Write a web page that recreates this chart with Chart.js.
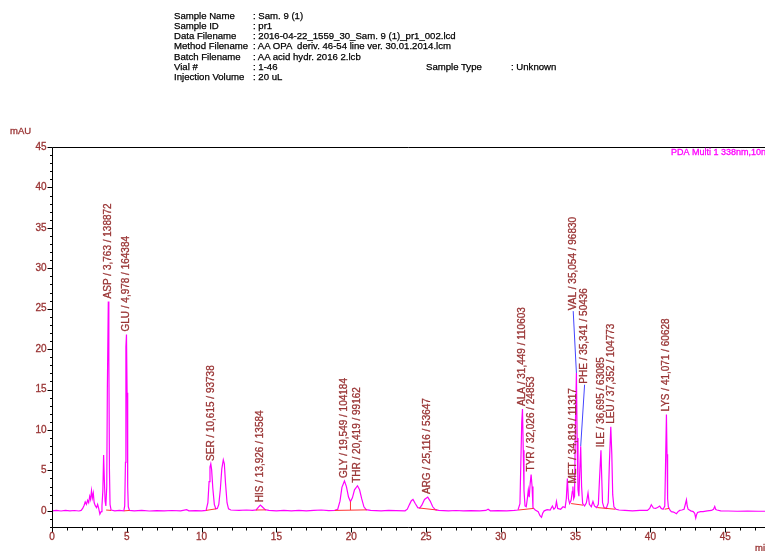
<!DOCTYPE html>
<html>
<head>
<meta charset="utf-8">
<script src="https://cdn.jsdelivr.net/npm/chart.js@4.4.1/dist/chart.umd.min.js"></script>
<style>
  html, body { margin: 0; padding: 0; background: #fff; }
  #wrap { position: relative; width: 765px; height: 551px; overflow: hidden; }
  #c { position: absolute; left: 0; top: 0; }
  .hd { position: absolute; font-family: 'Liberation Sans', Arial, sans-serif; font-size: 9.6px;
        color: #000; white-space: pre; line-height: 10px; -webkit-text-stroke: 0.25px #000; }
</style>
</head>
<body>
<div id="wrap">
  <canvas id="c" width="765" height="551"></canvas>
  <div class="hd" style="left:174px;top:11px">Sample Name</div>
  <div class="hd" style="left:253px;top:11px">: Sam. 9 (1)</div>
  <div class="hd" style="left:174px;top:21px">Sample ID</div>
  <div class="hd" style="left:253px;top:21px">: pr1</div>
  <div class="hd" style="left:174px;top:31px">Data Filename</div>
  <div class="hd" style="left:253px;top:31px">: 2016-04-22_1559_30_Sam. 9 (1)_pr1_002.lcd</div>
  <div class="hd" style="left:174px;top:41px">Method Filename</div>
  <div class="hd" style="left:253px;top:41px">: AA OPA  deriv. 46-54 line ver. 30.01.2014.lcm</div>
  <div class="hd" style="left:174px;top:52px">Batch Filename</div>
  <div class="hd" style="left:253px;top:52px">: AA acid hydr. 2016 2.lcb</div>
  <div class="hd" style="left:174px;top:62px">Vial #</div>
  <div class="hd" style="left:253px;top:62px">: 1-46</div>
  <div class="hd" style="left:426px;top:62px">Sample Type</div>
  <div class="hd" style="left:511px;top:62px">: Unknown</div>
  <div class="hd" style="left:174px;top:72px">Injection Volume</div>
  <div class="hd" style="left:253px;top:72px">: 20 uL</div>
</div>
<script>
// Chromatogram trace: PDA Multi 1, 338 nm (retention time in min, absorbance in mAU)
const traceTime = [
  0.00, 0.30, 0.60, 0.90, 1.20, 1.50, 1.80, 1.95, 2.05, 2.15, 2.22, 2.30, 2.38, 2.45, 2.52, 2.58,
  2.64, 2.70, 2.76, 2.82, 2.90, 2.98, 3.05, 3.12, 3.20, 3.28, 3.34, 3.40, 3.45, 3.50, 3.55, 3.60,
  3.66, 3.70, 3.763, 3.80, 3.84, 3.88, 3.95, 4.20, 4.50, 4.80, 4.86, 4.91, 4.94, 4.978, 5.02, 5.06,
  5.10, 5.18, 5.50, 6.00, 6.50, 7.00, 7.50, 8.00, 8.60, 9.00, 9.15, 9.60, 10.00, 10.30, 10.42, 10.50,
  10.56, 10.615, 10.67, 10.75, 10.85, 10.95, 11.05, 11.15, 11.25, 11.35, 11.45, 11.52, 11.60, 11.70, 11.80, 11.95,
  12.50, 13.00, 13.40, 13.65, 13.80, 13.926, 14.05, 14.25, 14.50, 15.00, 15.50, 16.00, 16.50, 17.00, 17.50, 18.00,
  18.50, 18.90, 19.10, 19.25, 19.38, 19.549, 19.68, 19.82, 19.95, 20.08, 20.22, 20.419, 20.56, 20.70, 20.85, 21.00,
  21.30, 22.00, 22.50, 23.00, 23.60, 23.75, 23.90, 24.02, 24.13, 24.28, 24.45, 24.58, 24.72, 24.90, 25.116, 25.28,
  25.45, 25.62, 25.85, 26.50, 27.00, 27.50, 28.00, 28.60, 29.00, 29.15, 29.30, 29.80, 30.40, 30.90, 31.15, 31.28,
  31.34, 31.40, 31.449, 31.50, 31.55, 31.62, 31.70, 31.78, 31.84, 31.90, 31.96, 32.026, 32.09, 32.15, 32.30, 32.50,
  32.62, 32.72, 32.80, 32.90, 33.10, 33.30, 33.45, 33.55, 33.65, 33.72, 33.80, 34.00, 34.16, 34.30, 34.38, 34.45,
  34.52, 34.60, 34.70, 34.78, 34.819, 34.87, 34.93, 34.98, 35.054, 35.10, 35.16, 35.22, 35.28, 35.341, 35.40, 35.47,
  35.60, 35.72, 35.83, 35.92, 36.05, 36.16, 36.26, 36.40, 36.52, 36.60, 36.695, 36.74, 36.80, 36.90, 37.05, 37.18,
  37.26, 37.352, 37.42, 37.48, 37.56, 37.70, 37.90, 38.30, 38.80, 39.30, 39.80, 39.95, 40.06, 40.20, 40.35, 40.50,
  40.62, 40.72, 40.85, 40.96, 41.01, 41.071, 41.11, 41.15, 41.20, 41.30, 41.40, 41.55, 41.74, 41.85, 41.96, 42.10,
  42.25, 42.36, 42.41, 42.46, 42.52, 42.70, 42.86, 42.96, 43.03, 43.08, 43.15, 43.35, 43.52, 43.80, 44.08, 44.22,
  44.30, 44.37, 44.45, 44.70, 45.20, 45.80, 46.50, 47.20, 47.66
];
const traceMAU = [
  0.00, 0.05, -0.02, 0.05, 0.00, 0.04, -0.02, 0.05, 0.30, 0.70, 1.10, 0.80, 1.30, 1.00, 1.80, 1.40,
  2.50, 1.60, 2.20, 1.00, 0.60, 0.40, 0.80, 0.30, -0.40, -0.10, 0.60, 2.50, 6.90, 3.80, 1.20, 0.60,
  3.00, 15.00, 25.90, 19.10, 5.00, 0.80, 0.10, 0.00, 0.05, 0.00, 0.60, 6.00, 20.30, 21.80, 14.60, 3.00,
  0.50, 0.05, 0.00, 0.05, -0.02, 0.03, 0.00, 0.04, 0.00, 0.15, 0.00, 0.03, 0.00, 0.05, 1.00, 3.60,
  5.40, 5.80, 5.10, 2.80, 0.80, 0.25, 0.30, 0.80, 2.60, 5.20, 6.30, 5.80, 3.40, 1.00, 0.25, 0.10,
  0.05, 0.10, 0.05, 0.12, 0.45, 0.70, 0.50, 0.15, 0.05, 0.00, 0.05, 0.00, 0.05, 0.00, 0.05, 0.10,
  0.03, 0.05, 0.20, 1.20, 2.90, 3.70, 3.00, 1.70, 1.15, 1.60, 2.60, 3.10, 2.60, 1.50, 0.50, 0.15,
  0.05, 0.00, 0.05, 0.02, 0.00, 0.20, 0.80, 1.25, 1.40, 0.90, 0.40, 0.35, 0.70, 1.40, 1.70, 1.20,
  0.50, 0.15, 0.05, 0.00, 0.04, 0.00, 0.03, 0.00, 0.05, 0.20, 0.00, 0.03, 0.00, 0.05, 0.10, 0.90,
  6.00, 11.00, 12.60, 7.50, 2.50, 0.60, 0.50, 1.60, 2.60, 1.70, 3.30, 4.50, 3.00, 0.40, 0.10, -0.10,
  -0.60, -0.80, -0.30, 0.00, 0.15, 0.10, 0.60, 0.20, 0.40, 1.15, 0.30, 0.20, 0.50, 0.40, 1.50, 4.00,
  1.50, 0.90, 1.30, 2.40, 3.00, 1.50, 1.80, 10.00, 17.05, 9.00, 2.60, 1.80, 5.00, 8.00, 3.00, 0.90,
  0.60, 1.00, 2.20, 0.80, 0.50, 1.15, 0.60, 0.40, 0.80, 4.00, 7.50, 4.50, 1.00, 0.40, 0.30, 1.00,
  6.00, 10.40, 7.00, 2.00, 0.50, 0.20, 0.10, 0.05, 0.00, 0.05, 0.05, 0.30, 0.75, 0.35, 0.30, 0.45,
  0.60, 0.30, 0.20, 0.60, 5.50, 11.90, 7.00, 1.50, 0.50, 0.10, -0.10, -0.15, -0.35, -0.10, 0.05, 0.10,
  0.20, 1.00, 1.36, 0.60, 0.20, 0.00, -0.10, -0.30, -0.90, -0.50, -0.20, -0.10, -0.10, 0.00, 0.05, 0.20,
  0.55, 0.15, 0.10, 0.00, -0.02, -0.05, -0.03, -0.05, -0.05
];

// Identified peaks: name, retention time (min), area
const peakNames = ['ASP', 'GLU', 'SER', 'HIS', 'GLY', 'THR', 'ARG', 'ALA', 'TYR', 'MET', 'VAL', 'PHE', 'ILE', 'LEU', 'LYS'];
const peakTimes = [3.763, 4.978, 10.615, 13.926, 19.549, 20.419, 25.116, 31.449, 32.026, 34.819, 35.054, 35.341, 36.695, 37.352, 41.071];
const peakAreas = [138872, 164384, 93738, 13584, 104184, 99162, 53647, 110603, 24853, 11317, 96830, 50436, 63085, 104773, 60628];

// Integration baselines: [start time, start mAU, end time, end mAU]
const baseStartTime = [3.62, 4.82, 10.30, 13.62, 18.90, 24.55, 31.18, 34.70, 36.45, 40.95, 19.95];
const baseStartMAU  = [0.10, 0.00, 0.05, 0.10, 0.05, 0.35, 0.10, 0.90, 0.40, 0.20, 0.09];
const baseEndTime   = [3.95, 5.20, 10.97, 14.30, 21.05, 25.75, 32.20, 35.50, 37.65, 41.25, 19.95];
const baseEndMAU    = [0.05, 0.05, 0.25, 0.12, 0.12, 0.10, 0.30, 0.70, 0.20, 0.30, 1.15];

// Axis tick labels
const xTickLabels = [0, 5, 10, 15, 20, 25, 30, 35, 40, 45];
const yTickLabels = [0, 5, 10, 15, 20, 25, 30, 35, 40, 45];

// Labels that are moved off their peak and tied back with a leader line
const movedLabels = { VAL: { t: 34.84, v: 24.7 }, PHE: { t: 35.60, v: 15.6 } };

const LABEL_RED = '#993333';
const FONT = "'Liberation Sans', Arial, sans-serif";

const tracePoints = traceTime.map((t, i) => ({ x: t, y: traceMAU[i] }));

const basePoints = [];
baseStartTime.forEach((t, i) => {
  basePoints.push({ x: t, y: baseStartMAU[i] });
  basePoints.push({ x: baseEndTime[i], y: baseEndMAU[i] });
  basePoints.push({ x: baseEndTime[i], y: null });
});

function apexOf(t) {
  return traceMAU[traceTime.indexOf(t)];
}

const leaderPoints = [];
peakNames.forEach((n, i) => {
  const m = movedLabels[n];
  if (!m) return;
  leaderPoints.push({ x: m.t, y: m.v });
  leaderPoints.push({ x: peakTimes[i], y: apexOf(peakTimes[i]) });
  leaderPoints.push({ x: peakTimes[i], y: null });
});

// draws text with a hairline outline so it reads a little heavier
function heavyText(ctx, txt, x, y) {
  ctx.strokeText(txt, x, y);
  ctx.fillText(txt, x, y);
}

const frame = {
  id: 'frame',
  afterDraw(chart) {
    const { ctx, chartArea: a, scales: { x, y } } = chart;
    ctx.save();
    ctx.strokeStyle = '#000';
    ctx.lineWidth = 1;
    ctx.beginPath();
    const L = Math.round(a.left) + 0.5, B = Math.round(a.bottom) + 0.5, T = Math.round(a.top) + 0.5;
    ctx.moveTo(L, T); ctx.lineTo(L, B);
    ctx.moveTo(L, B); ctx.lineTo(a.right, B);
    ctx.moveTo(L, T); ctx.lineTo(a.right, T);
    // y ticks every 1 mAU, long every 5
    for (let v = Math.ceil(y.min); v <= y.max; v++) {
      const py = Math.round(y.getPixelForValue(v)) + 0.5;
      const len = v % 5 === 0 ? 5 : 2.5;
      ctx.moveTo(L - len, py); ctx.lineTo(L, py);
    }
    // x ticks every 1 min, long every 5
    for (let t = 0; t <= x.max; t++) {
      const px = Math.round(x.getPixelForValue(t)) + 0.5;
      const len = t % 5 === 0 ? 5 : 3;
      ctx.moveTo(px, B); ctx.lineTo(px, B + len);
    }
    ctx.stroke();

    ctx.fillStyle = LABEL_RED;
    ctx.strokeStyle = LABEL_RED;
    ctx.lineWidth = 0.3;
    ctx.font = '10px ' + FONT;
    ctx.textAlign = 'right';
    ctx.textBaseline = 'middle';
    yTickLabels.forEach(v => heavyText(ctx, String(v), L - 6, y.getPixelForValue(v)));
    ctx.textAlign = 'center';
    xTickLabels.forEach(t => heavyText(ctx, String(t), x.getPixelForValue(t), B + 10));

    ctx.textAlign = 'left';
    ctx.font = '9.5px ' + FONT;
    heavyText(ctx, 'mAU', 10, 131);
    heavyText(ctx, 'min', 755, 548);

    ctx.fillStyle = '#ff00ff';
    ctx.strokeStyle = '#ff00ff';
    ctx.font = '9px ' + FONT;
    heavyText(ctx, 'PDA Multi 1 338nm,10nm', 671, 153);

    // peak labels, written upward from the peak top
    ctx.fillStyle = LABEL_RED;
    ctx.strokeStyle = LABEL_RED;
    ctx.font = '10px ' + FONT;
    ctx.textBaseline = 'middle';
    peakNames.forEach((n, i) => {
      const m = movedLabels[n];
      const t = m ? m.t : peakTimes[i];
      const v = m ? m.v : apexOf(peakTimes[i]);
      const px = x.getPixelForValue(t);
      const py = y.getPixelForValue(v) - (m ? 1 : 3);
      const txt = n + ' / ' + peakTimes[i].toFixed(3).replace('.', ',') + ' / ' + peakAreas[i];
      ctx.save();
      ctx.translate(px, py);
      ctx.rotate(-Math.PI / 2);
      heavyText(ctx, txt, 0, 0);
      ctx.restore();
    });
    ctx.restore();
  }
};

new Chart(document.getElementById('c'), {
  type: 'line',
  data: {
    datasets: [
      { data: basePoints, borderColor: '#ff3333', borderWidth: 1, pointRadius: 0, spanGaps: false, order: 0 },
      { data: leaderPoints, borderColor: '#4444ff', borderWidth: 1, pointRadius: 0, spanGaps: false, order: 1 },
      { data: tracePoints, borderColor: '#ff00ff', borderWidth: 1.2, pointRadius: 0, tension: 0, order: 2 }
    ]
  },
  options: {
    responsive: false,
    animation: false,
    devicePixelRatio: 1,
    layout: { padding: { left: 52, top: 147, right: 0, bottom: 24 } },
    plugins: { legend: { display: false }, tooltip: { enabled: false } },
    scales: {
      x: { type: 'linear', min: 0, max: 47.66, display: false },
      y: { type: 'linear', min: -2, max: 45, display: false }
    }
  },
  plugins: [frame]
});
</script>
</body>
</html>
